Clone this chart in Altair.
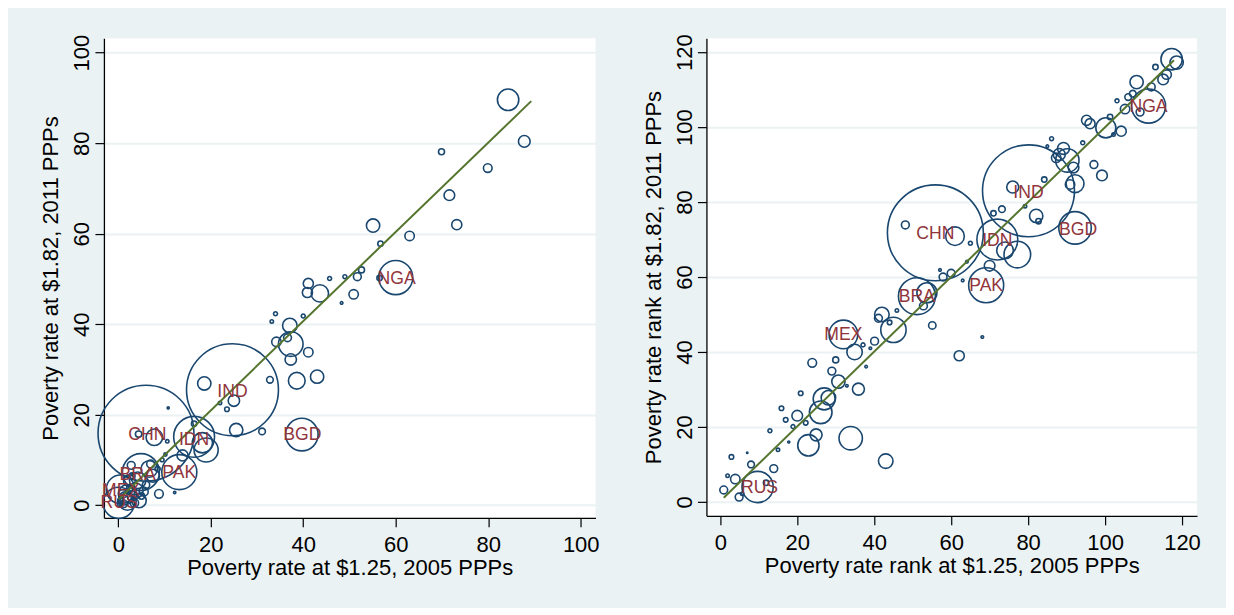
import altair as alt
import pandas as pd

FONT = "Liberation Sans"
NAVY = "#1a476f"
MAROON = "#90353b"
OLIVE = "#55752f"
BG = "#eaf2f3"

# ---------------- Left panel: poverty rates ----------------
l_x = [84.3, 87.8, 69.9, 79.9, 71.6, 73.2, 55.1, 63.0, 56.7, 60.0, 56.5, 52.6, 51.7, 49.0, 45.7,
       50.9, 48.3, 41.1, 40.9, 43.6, 40.0, 34.0, 33.2, 37.1, 34.2, 36.6, 37.3, 37.3, 41.1, 38.6,
       43.0, 32.8, 24.7, 18.6, 25.0, 22.0, 23.5, 25.5, 31.1, 39.7, 6.0, 10.8, 7.8, 4.4, 10.6,
       16.4, 18.2, 19.0, 16.4, 13.9, 13.2, 8.8, 12.2, 4.9, 6.7, 7.0, 10.2, 2.8, 4.2, 0.5,
       0.1, 4.5, 3.7, 2.4, 1.5, 2.0, 3.0, 1.0, 5.5, 6.0, 0.5, 1.2, 2.5, 3.5, 0.3,
       7.5, 8.5, 9.5, 3.0, 5.0, 2.0]
l_y = [89.6, 80.4, 78.1, 74.5, 68.5, 62.0, 61.8, 59.5, 57.8, 50.3, 50.2, 52.0, 50.5, 50.5, 50.1,
       46.6, 44.7, 49.0, 47.0, 46.8, 41.8, 42.3, 40.6, 39.7, 36.1, 37.0, 35.6, 32.2, 33.8, 27.5,
       28.4, 27.7, 25.5, 26.9, 23.1, 22.6, 21.2, 16.6, 16.3, 15.6, 15.9, 21.5, 15.0, 15.7, 14.1,
       15.1, 13.8, 12.2, 18.0, 11.0, 7.3, 2.5, 2.8, 7.3, 8.0, 9.1, 11.2, 8.8, 5.5, 3.5,
       0.5, 1.0, 3.2, 5.4, 1.5, 0.8, 2.0, 2.5, 3.0, 4.5, 1.0, 0.3, 3.8, 0.5, 0.2,
       6.5, 8.0, 10.0, 6.5, 2.0, 2.5]
l_pop = [67, 20, 5.3, 11, 16.7, 15, 26, 13, 4.2, 170, 4.2, 5.3, 9, 2.3, 2.3,
         13, 1, 15, 15, 44, 2.3, 2.3, 1.7, 31, 13, 9, 89, 19, 13, 41,
         26, 6.5, 1240, 26, 19, 1.7, 3.1, 26, 6.5, 155, 1350, 0.6, 40, 6, 1.7,
         245, 60, 85, 4.2, 18, 180, 11, 0.8, 200, 40, 9, 1.5, 9, 40, 120,
         143, 30, 35, 20, 25, 45, 15, 10, 12, 8, 5, 8, 6, 10, 3,
         25, 4, 2, 5, 6, 50]
l_lab = ["CHN", "IND", "IDN", "PAK", "BRA", "MEX", "RUS", "BGD", "NGA"]
l_lab_x = [6.3, 24.7, 16.4, 13.2, 4.2, 0.6, 0.2, 39.8, 60.2]
l_lab_y = [15.5, 24.9, 14.4, 7.1, 6.7, 3.2, 0.4, 15.4, 50.0]
l_fit_x = [0.1, 89.3]
l_fit_y = [1.3, 89.3]

# ---------------- Right panel: poverty rate ranks ----------------
r_x = [0.9, 4.9, 5.7, 3.9, 1.9, 2.9, 7.0, 8.0, 9.7, 11.9, 13.9, 15.0, 12.9, 17.8, 15.9,
       17.0, 18.9, 20.0, 20.9, 22.2, 22.9, 24.9, 26.1, 27.0, 28.1, 33.9, 35.9, 43.0, 32.9, 30.7,
       32.0, 34.9, 37.1, 40.1, 39.0, 37.9, 23.9, 30.0, 29.0, 42.0, 41.1, 44.0, 45.0, 45.9, 51.1,
       53.7, 52.8, 55.1, 57.9, 60.0, 57.1, 63.0, 68.1, 62.1, 48.1, 55.9, 61.0, 65.0, 64.1, 69.1,
       70.0, 72.0, 74.0, 77.2, 80.1, 82.1, 82.7, 73.2, 71.0, 79.2, 76.0, 92.2, 90.9, 117.3, 118.6,
       113.1, 116.0, 115.1, 112.0, 108.2, 107.2, 106.0, 103.1, 111.3, 109.1, 105.2, 101.3, 100.2, 104.2, 95.2,
       96.1, 102.2, 94.2, 86.1, 85.0, 89.2, 88.1, 90.2, 87.3, 91.8, 92.2, 97.1, 99.2, 84.2]
r_y = [3.2, 1.3, 2.2, 6.1, 7.0, 12.0, 13.1, 10.0, 4.0, 5.1, 8.9, 13.9, 19.0, 16.0, 25.0,
       21.9, 20.1, 23.0, 29.0, 21.1, 15.1, 17.9, 23.9, 27.5, 27.8, 17.0, 30.1, 10.9, 31.0, 32.1,
       44.7, 40.0, 41.9, 42.9, 41.0, 36.1, 37.1, 37.9, 34.9, 50.0, 49.0, 47.9, 45.9, 51.1, 54.9,
       55.8, 52.3, 47.1, 60.0, 61.0, 61.9, 59.1, 44.0, 39.0, 73.9, 71.8, 70.9, 69.0, 64.1, 57.8,
       63.0, 70.0, 67.1, 66.0, 83.0, 76.3, 74.9, 78.1, 77.0, 78.9, 84.0, 73.1, 84.7, 118.1, 117.2,
       116.0, 114.0, 112.7, 110.7, 112.0, 108.9, 108.0, 107.0, 105.6, 104.0, 104.8, 102.7, 99.8, 98.9, 101.8,
       100.9, 98.0, 95.8, 96.9, 94.9, 94.3, 92.7, 91.1, 91.8, 89.2, 84.9, 90.0, 87.1, 86.0]
r_pop = [9, 9, 1.7, 13, 1.7, 3.1, 0.3, 6.5, 143, 4.2, 9, 1.7, 2.3, 0.6, 3.1,
         3.1, 2.3, 16.7, 3.1, 3.1, 67, 21, 75, 71, 31, 80, 21, 31, 1, 26,
         120, 35, 2.3, 9, 1, 1, 11, 5.3, 9, 31, 9, 3.1, 94, 1.7, 200,
         59, 9, 8, 9, 9, 1, 1, 1, 15, 9, 1350, 51, 2.3, 1, 180,
         16.7, 245, 41, 104, 1240, 26, 4.2, 6.5, 4.2, 1.7, 21, 155, 13, 67, 26,
         4.2, 13, 16.7, 9, 26, 6.5, 6.5, 2.3, 170, 9, 13, 4.2, 59, 15, 15,
         15, 1.7, 2.3, 2.3, 1, 21, 21, 80, 13, 16.7, 47, 9, 16.7, 4.2]
r_lab = ["CHN", "IND", "IDN", "PAK", "BRA", "MEX", "RUS", "BGD", "NGA"]
r_lab_x = [55.9, 80.1, 72.0, 69.1, 51.1, 32.0, 10.2, 93.0, 111.3]
r_lab_y = [71.4, 82.5, 69.6, 57.6, 54.7, 44.5, 3.8, 72.5, 105.3]
r_fit_x = [0.9, 117.9]
r_fit_y = [1.1, 117.8]


def panel(px, py, ppop, lc, lx, ly, fx, fy, xdom, ydom, ticks, xtitle, ytitle, w, h):
    pts = pd.DataFrame({"x": px, "y": py, "pop": ppop})
    labs = pd.DataFrame({"code": lc, "x": lx, "y": ly})
    fit = pd.DataFrame({"x": fx, "y": fy})
    xs = alt.Scale(domain=xdom, nice=False, zero=False)
    ys = alt.Scale(domain=ydom, nice=False, zero=False)
    xax = alt.Axis(values=ticks, title=xtitle, grid=False, labelFlush=False,
                   labelOverlap=False, labelPadding=8, titlePadding=2)
    yax = alt.Axis(values=ticks, title=ytitle, grid=True, gridColor=BG, gridWidth=2,
                   labelAngle=-90, labelAlign="center", labelBaseline="bottom",
                   labelFlush=False, labelOverlap=False, labelPadding=1, titlePadding=8)
    enc_x = alt.X("x:Q", scale=xs, axis=xax, title=xtitle)
    enc_y = alt.Y("y:Q", scale=ys, axis=yax, title=ytitle)
    circles = alt.Chart(pts).mark_point(
        shape="circle", filled=False, color=NAVY, strokeWidth=1.6, opacity=1
    ).encode(
        x=enc_x, y=enc_y,
        size=alt.Size("pop:Q", scale=alt.Scale(domain=[0, 1350], range=[0, 9216]), legend=None),
    )
    line = alt.Chart(fit).mark_line(color=OLIVE, strokeWidth=2).encode(x=enc_x, y=enc_y)
    text = alt.Chart(labs).mark_text(font=FONT, fontSize=17.6, color=MAROON).encode(
        x=enc_x, y=enc_y, text="code:N",
    )
    return alt.layer(circles, line, text).properties(width=w, height=h)


left = panel(l_x, l_y, l_pop, l_lab, l_lab_x, l_lab_y, l_fit_x, l_fit_y,
             [-3.1, 103.2], [-2.8, 103.2], [0, 20, 40, 60, 80, 100],
             "Poverty rate at $1.25, 2005 PPPs", "Poverty rate at $1.82, 2011 PPPs", 492, 480)
right = panel(r_x, r_y, r_pop, r_lab, r_lab_x, r_lab_y, r_fit_x, r_fit_y,
              [-3.6, 123.9], [-3.7, 123.7], [0, 20, 40, 60, 80, 100, 120],
              "Poverty rate rank at $1.25, 2005 PPPs", "Poverty rate rank at $1.82, 2011 PPPs", 491, 478)

chart = alt.HConcatChart(
    hconcat=[left, right], spacing=111, bounds="flush",
    background=BG,
    padding={"left": 32, "top": 25, "right": 25, "bottom": 29},
).configure_view(
    fill="white", strokeWidth=0
).configure_axis(
    labelFont=FONT, titleFont=FONT, labelFontSize=22, titleFontSize=22,
    labelColor="black", titleColor="black", titleFontWeight="normal",
    tickColor="black", domainColor="black", tickSize=9, tickWidth=1.2, domainWidth=1.3,
)

chart.save("out.html", embed_options={"renderer": "svg", "actions": False})
